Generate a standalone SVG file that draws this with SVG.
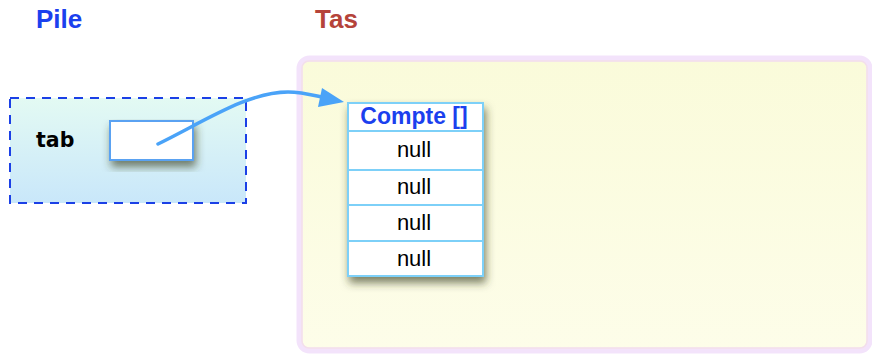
<svg xmlns="http://www.w3.org/2000/svg" width="872" height="354" viewBox="0 0 872 354">
  <style>
    .title { font-family: "Liberation Sans", Arial, sans-serif; font-weight: bold; font-size: 26px; }
    .cell { fill: #ffffff; stroke: #7dd0f8; stroke-width: 2; }
    .null { font-family: "Liberation Sans", Arial, sans-serif; font-size: 22px; fill: #000000; text-anchor: middle; }
    .link { fill: none; stroke: #4aa3f8; stroke-width: 3.5; stroke-linecap: round; }
  </style>
  <defs>
    <linearGradient id="stackFill" x1="0" y1="0" x2="0" y2="1">
      <stop offset="0" stop-color="#e3faf3"/>
      <stop offset="1" stop-color="#c9e7fa"/>
    </linearGradient>
    <linearGradient id="heapFill" x1="0" y1="0" x2="0" y2="1">
      <stop offset="0" stop-color="#fafbda"/>
      <stop offset="1" stop-color="#fdfde9"/>
    </linearGradient>
    <filter id="shadow" x="-20%" y="-20%" width="140%" height="150%">
      <feGaussianBlur in="SourceAlpha" stdDeviation="4"/>
      <feOffset dx="2" dy="6" result="b"/>
      <feFlood flood-color="#3a4020" flood-opacity="0.65"/>
      <feComposite in2="b" operator="in"/>
      <feMerge><feMergeNode/><feMergeNode in="SourceGraphic"/></feMerge>
    </filter>
  </defs>

  <!-- section titles -->
  <text class="title" x="36" y="28" fill="#1b40ee">Pile</text>
  <text class="title" x="315" y="28" fill="#b5433a">Tas</text>

  <!-- heap area: lavender rim with a pinkish inner edge -->
  <g id="tas">
    <rect x="299.5" y="58.5" width="570" height="292" rx="10" fill="url(#heapFill)" stroke="#f3e3fb" stroke-width="6"/>
    <rect x="302" y="61" width="565" height="287" rx="7" fill="none" stroke="#f3dfea" stroke-width="1.5"/>
  </g>

  <!-- stack frame -->
  <g id="pile">
    <rect x="10" y="98" width="236" height="105" fill="url(#stackFill)" stroke="#1b40e6" stroke-width="2" stroke-dasharray="9 7"/>
    <text x="36" y="147" font-family="'DejaVu Sans', sans-serif" font-weight="bold" font-size="20.5" fill="#000000">tab</text>
  </g>

  <!-- variable slot -->
  <g id="tab-slot">
    <rect x="110" y="121" width="83" height="39" fill="#ffffff" stroke="#5aa2f2" stroke-width="2" filter="url(#shadow)"/>
  </g>

  <!-- array object -->
  <g id="compte-array" filter="url(#shadow)">
    <rect class="cell" x="348" y="103" width="135" height="28"/>
    <rect class="cell" x="348" y="131" width="135" height="39"/>
    <rect class="cell" x="348" y="170" width="135" height="35"/>
    <rect class="cell" x="348" y="205" width="135" height="36"/>
    <rect class="cell" x="348" y="241" width="135" height="35"/>
  </g>
  <g id="compte-labels">
    <text x="414" y="124" font-family="'Liberation Sans', Arial, sans-serif" font-weight="bold" font-size="23" fill="#1b40ee" text-anchor="middle">Compte []</text>
    <text class="null" x="414" y="157">null</text>
    <text class="null" x="414" y="194">null</text>
    <text class="null" x="414" y="230">null</text>
    <text class="null" x="414" y="266">null</text>
  </g>

  <!-- references -->
  <g id="connectors">
    <path class="link" d="M158,144 C205,121 248,92 288,92 C302,92 312,95 326,98"/>
    <path d="M322,88 L344,102 L318,107 Z" fill="#4aa3f8"/>
  </g>
</svg>
